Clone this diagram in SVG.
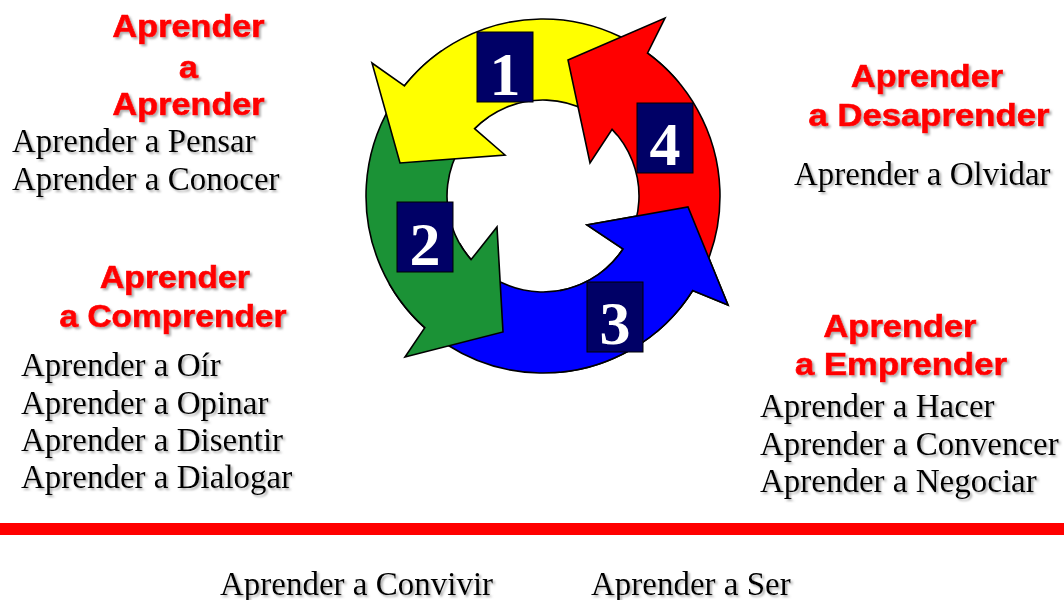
<svg xmlns="http://www.w3.org/2000/svg" width="1064" height="600" viewBox="0 0 1064 600">
<defs>
<style>
.arr{stroke:#000;stroke-width:1.6;stroke-linejoin:miter}
.hd{font-family:"Liberation Sans",Arial,sans-serif;font-weight:bold;font-size:31px;fill:#ff0000;stroke:#ff0000;stroke-width:0.7;text-anchor:middle}
.tx{font-family:"Liberation Serif","Times New Roman",serif;font-size:33px;fill:#000}
.box{fill:#000066;stroke:#000;stroke-width:1}
.num{font-family:"Liberation Serif","Times New Roman",serif;font-weight:bold;font-size:62px;fill:#fff;text-anchor:middle}
</style>
<filter id="sh" x="-5%" y="-30%" width="115%" height="170%">
<feGaussianBlur in="SourceAlpha" stdDeviation="1"/>
<feOffset dx="2" dy="2" result="o"/>
<feFlood flood-color="#7a7a7a" flood-opacity="0.6"/>
<feComposite in2="o" operator="in"/>
<feMerge><feMergeNode/><feMergeNode in="SourceGraphic"/></feMerge>
</filter>
<clipPath id="clipBlue"><rect x="560" y="180" width="200" height="200"/></clipPath>
<path id="bluePath" d="M389.7,284.5 A177,177 0 0,0 692.6,290.6 L728,305 L688,207 L587,225 L623.1,249 A96,96 0 0,1 459.9,244 Z"/>
</defs>
<rect width="1064" height="600" fill="#fff"/>

<g id="connectors">
<use id="arrow3" href="#bluePath" class="arr" fill="#0000ff"/>
<path id="arrow2" class="arr" fill="#1b9236" d="M441.5,51 A177,177 0 0,0 424.8,327.7 L405,357 L503,332 L497,227 L471.1,259.6 A96,96 0 0,1 487.9,117.4 Z"/>
<path id="arrow1" class="arr" fill="#ffff00" d="M678.6,82.2 A177,177 0 0,0 404.5,85.8 L372,63 L400,163 L505,155 L474.6,128.6 A96,96 0 0,1 616.5,134.3 Z"/>
<path id="arrow4" class="arr" fill="#ff0000" d="M656.8,331.6 A177,177 0 0,0 647.5,53.2 L665,18 L568,60 L590,163 L612.1,129.3 A96,96 0 0,1 604.7,269.5 Z"/>
<use href="#bluePath" class="arr" fill="#0000ff" clip-path="url(#clipBlue)"/>
</g>

<g id="n1"><rect class="box" x="477" y="32" width="56" height="70"/><text class="num" x="505" y="95">1</text></g>
<g id="n2"><rect class="box" x="397" y="202" width="56" height="70"/><text class="num" x="425" y="265">2</text></g>
<g id="n3"><rect class="box" x="587" y="282" width="56" height="70"/><text class="num" x="615" y="344">3</text></g>
<g id="n4"><rect class="box" x="637" y="103" width="56" height="70"/><text class="num" x="665" y="165">4</text></g>

<g id="aprender" filter="url(#sh)">
<text class="hd" x="188.6" y="37" textLength="152" lengthAdjust="spacingAndGlyphs">Aprender</text>
<text class="hd" x="188.6" y="78" textLength="19" lengthAdjust="spacingAndGlyphs">a</text>
<text class="hd" x="188.6" y="115" textLength="152" lengthAdjust="spacingAndGlyphs">Aprender</text>
<text class="tx" x="12" y="152">Aprender a Pensar</text>
<text class="tx" x="12" y="190">Aprender a Conocer</text>
</g>

<g id="desaprender" filter="url(#sh)">
<text class="hd" x="927" y="87" textLength="152" lengthAdjust="spacingAndGlyphs">Aprender</text>
<text class="hd" x="929" y="126" textLength="241" lengthAdjust="spacingAndGlyphs">a Desaprender</text>
<text class="tx" x="794" y="185">Aprender a Olvidar</text>
</g>

<g id="comprender" filter="url(#sh)">
<text class="hd" x="175" y="288" textLength="150" lengthAdjust="spacingAndGlyphs">Aprender</text>
<text class="hd" x="173" y="327" textLength="227" lengthAdjust="spacingAndGlyphs">a Comprender</text>
<text class="tx" x="21" y="376">Aprender a Oír</text>
<text class="tx" x="21" y="414">Aprender a Opinar</text>
<text class="tx" x="21" y="451">Aprender a Disentir</text>
<text class="tx" x="21" y="488">Aprender a Dialogar</text>
</g>

<g id="emprender" filter="url(#sh)">
<text class="hd" x="900" y="337" textLength="153" lengthAdjust="spacingAndGlyphs">Aprender</text>
<text class="hd" x="901" y="375" textLength="212" lengthAdjust="spacingAndGlyphs">a Emprender</text>
<text class="tx" x="760" y="417">Aprender a Hacer</text>
<text class="tx" x="760" y="455">Aprender a Convencer</text>
<text class="tx" x="760" y="492">Aprender a Negociar</text>
</g>

<rect id="divider" x="0" y="523" width="1064" height="12" fill="#ff0000"/>

<g id="bottom" filter="url(#sh)">
<text class="tx" x="220" y="595">Aprender a Convivir</text>
<text class="tx" x="591" y="595">Aprender a Ser</text>
</g>
</svg>
